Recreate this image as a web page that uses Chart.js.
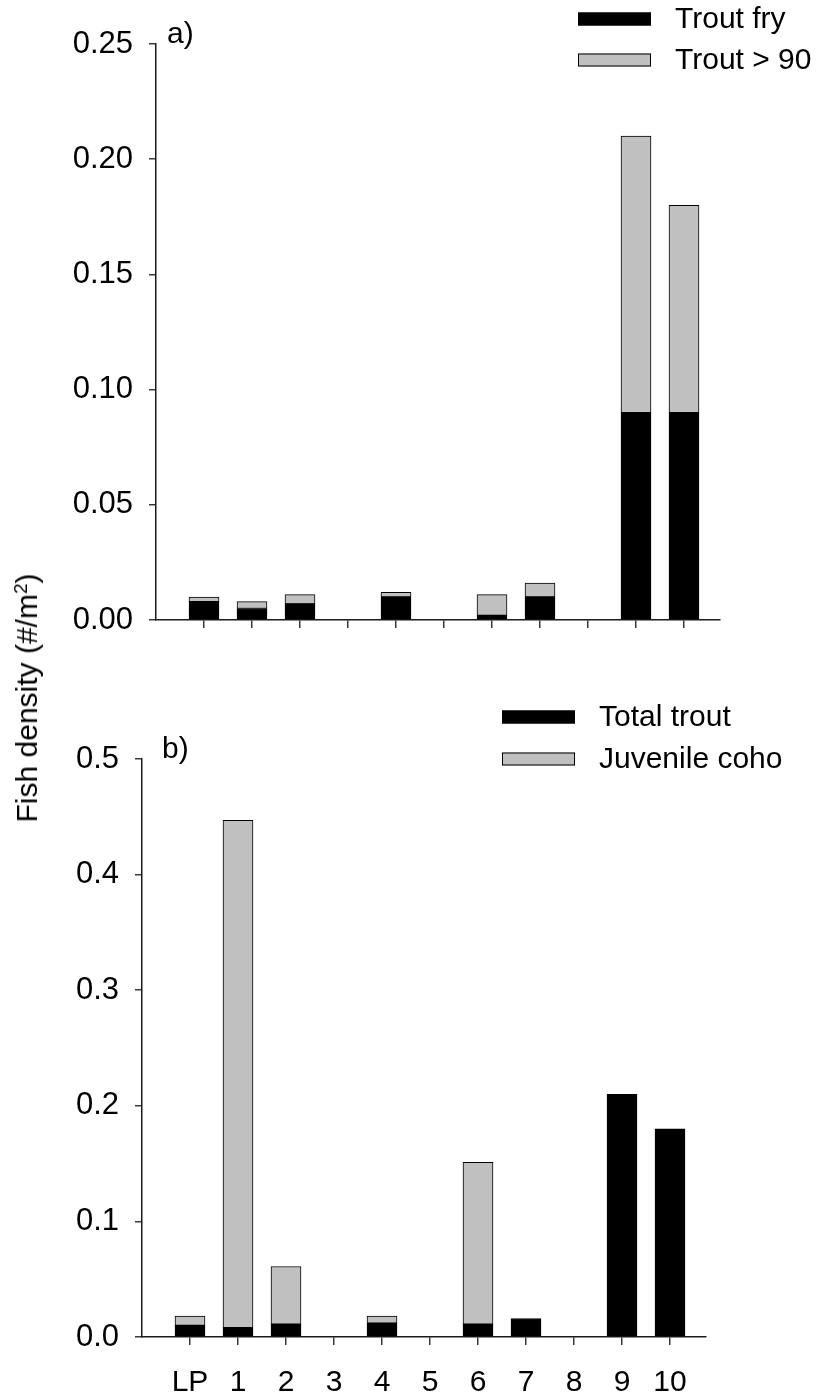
<!DOCTYPE html>
<html>
<head>
<meta charset="utf-8">
<script src="https://cdn.jsdelivr.net/npm/chart.js@4.4.1/dist/chart.umd.min.js"></script>
<style>
  html, body { margin: 0; padding: 0; background: #fff; }
  body { width: 817px; height: 1395px; position: relative; overflow: hidden;
         font-family: "Liberation Sans", Arial, sans-serif; }
  canvas { position: absolute; left: 0; }
  #cA { top: 0; }
  #cB { top: 700px; }
  #ytitle { position: absolute; left: 27px; top: 698px; white-space: nowrap;
            transform: translate(-50%, -50%) rotate(-90deg);
            font-size: 30px; color: #000; line-height: 1; }
  #ytitle sup { font-size: 19px; vertical-align: 0.55em; line-height: 0; }
</style>
</head>
<body>
<canvas id="cA" width="817" height="660"></canvas>
<canvas id="cB" width="817" height="695"></canvas>
<div id="ytitle">Fish density (#/m<sup>2</sup>)</div>
<script>
// Sampling sites along the stream
const sites = ['LP', '1', '2', '3', '4', '5', '6', '7', '8', '9', '10'];

// Panel a) trout densities (fish per m²)
const troutFry    = [0.008, 0.005, 0.007, null, 0.010, null, 0.002, 0.010, null, 0.090, 0.090];
const troutOver90 = [0.002, 0.003, 0.004, null, 0.002, null, 0.009, 0.006, null, 0.120, 0.090];

// Panel b) total trout and juvenile coho densities (fish per m²)
const totalTrout   = [0.010, 0.008, 0.011, null, 0.012, null, 0.011, 0.016, null, 0.210, 0.180];
const juvenileCoho = [0.008, 0.439, 0.050, null, 0.006, null, 0.140, null, null, null, null];

// Y axis tick values
const ticksA = [0, 0.05, 0.10, 0.15, 0.20, 0.25];
const ticksB = [0, 0.1, 0.2, 0.3, 0.4, 0.5];

const FONT = '"Liberation Sans", Arial, sans-serif';
const BLACK = '#000000';
const GREY = '#c0c0c0';

const toPoints = arr => arr.map((v, i) => ({ x: i, y: v }));

// Legend + panel letter drawn at fixed spots inside each canvas
const panelDecor = {
  id: 'panelDecor',
  afterDraw(chart, args, opts) {
    const ctx = chart.ctx;
    ctx.save();
    ctx.font = '30px ' + FONT;
    ctx.fillStyle = '#000';
    ctx.textBaseline = 'middle';
    ctx.textAlign = 'left';
    ctx.fillText(opts.letter, opts.letterX, opts.letterY);
    chart.data.datasets.forEach((ds, k) => {
      const y = opts.legendY[k];
      ctx.fillStyle = ds.backgroundColor;
      ctx.fillRect(opts.legendX, y - 6.5, 73, 13);
      ctx.strokeStyle = '#000';
      ctx.lineWidth = 1;
      ctx.strokeRect(opts.legendX + 0.5, y - 6, 72, 12);
      ctx.fillStyle = '#000';
      ctx.fillText(ds.label, opts.legendX + 97, y + 1);
    });
    ctx.restore();
  }
};

function makePanel(canvasId, datasets, yTicks, yMax, decimals, cfg) {
  return new Chart(document.getElementById(canvasId), {
    type: 'bar',
    data: { datasets },
    plugins: [panelDecor],
    options: {
      responsive: false,
      animation: false,
      devicePixelRatio: 1,
      layout: { padding: { top: cfg.padTop, right: cfg.padRight, left: 0, bottom: 0 } },
      plugins: {
        legend: { display: false },
        tooltip: { enabled: false },
        panelDecor: cfg.decor
      },
      datasets: { bar: { barThickness: 30, borderWidth: 1, borderColor: '#000', borderSkipped: false } },
      scales: {
        x: {
          type: 'linear',
          stacked: true,
          min: -1,
          max: 10.75,
          offset: false,
          afterBuildTicks: s => { s.ticks = sites.map((_, i) => ({ value: i })); },
          afterFit: s => { s.height = cfg.xHeight; },
          ticks: {
            autoSkip: false,
            maxRotation: 0,
            padding: cfg.xPad,
            color: '#000',
            font: { family: FONT, size: 30 },
            callback: v => cfg.showXLabels ? sites[Math.round(v)] : ''
          },
          grid: { drawOnChartArea: false, drawTicks: true, tickLength: 8, color: '#3a3a3a', lineWidth: 1.5, offset: false },
          border: { display: true, color: '#1a1a1a', width: 1.5 }
        },
        y: {
          stacked: true,
          min: 0,
          max: yMax,
          afterBuildTicks: s => { s.ticks = yTicks.map(v => ({ value: v })); },
          afterFit: s => { s.width = cfg.yWidth; },
          ticks: {
            padding: 16,
            color: '#000',
            font: { family: FONT, size: 31 },
            callback: v => Number(v).toFixed(decimals)
          },
          grid: { drawOnChartArea: false, drawTicks: true, tickLength: 7, color: '#3a3a3a', lineWidth: 1.5 },
          border: { display: true, color: '#1a1a1a', width: 1.5 }
        }
      }
    }
  });
}

makePanel('cA', [
  { label: 'Trout fry', data: toPoints(troutFry), backgroundColor: BLACK },
  { label: 'Trout > 90', data: toPoints(troutOver90), backgroundColor: GREY }
], ticksA, 0.25, 2, {
  padTop: 44, padRight: 97, yWidth: 156, xHeight: 40, xPad: 10, showXLabels: false,
  decor: { letter: 'a)', letterX: 167, letterY: 35, legendX: 578, legendY: [19, 60] }
});

makePanel('cB', [
  { label: 'Total trout', data: toPoints(totalTrout), backgroundColor: BLACK },
  { label: 'Juvenile coho', data: toPoints(juvenileCoho), backgroundColor: GREY }
], ticksB, 0.5, 1, {
  padTop: 59, padRight: 111, yWidth: 142, xHeight: 58, xPad: 20, showXLabels: true,
  decor: { letter: 'b)', letterX: 162, letterY: 50, legendX: 502, legendY: [17, 59] }
});
</script>
</body>
</html>
